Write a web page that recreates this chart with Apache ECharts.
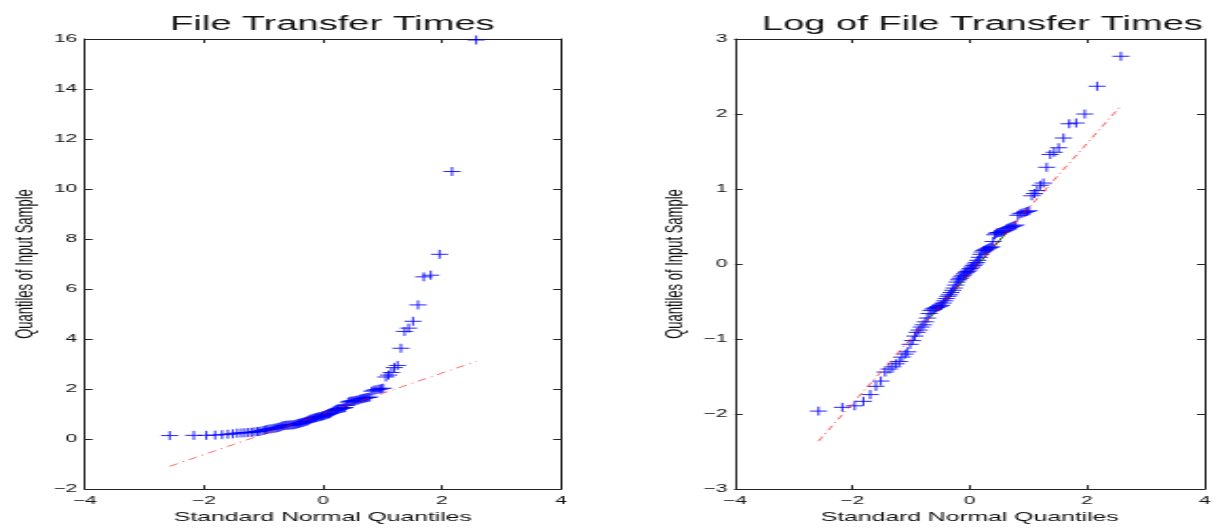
<!DOCTYPE html>
<html>
<head>
<meta charset="utf-8">
<script src="https://cdn.jsdelivr.net/npm/echarts@6/dist/echarts.min.js"></script>
<style>
html,body{margin:0;padding:0;background:#fff;overflow:hidden;width:1216px;height:529px;}
#c{width:640px;height:529px;transform:scaleX(1.9);transform-origin:0 0;}
</style>
</head>
<body>
<div id="c"></div>
<script>
// Standard normal quantiles (x positions of the QQ points)
const normalQuantiles = [-2.576,-2.170,-1.960,-1.812,-1.695,-1.598,-1.514,-1.440,-1.372,-1.311,-1.254,-1.200,-1.150,-1.103,-1.058,-1.015,-0.974,-0.935,-0.896,-0.860,-0.824,-0.789,-0.755,-0.722,-0.690,-0.659,-0.628,-0.598,-0.568,-0.539,-0.510,-0.482,-0.454,-0.426,-0.399,-0.372,-0.345,-0.319,-0.292,-0.266,-0.240,-0.215,-0.189,-0.164,-0.138,-0.113,-0.088,-0.063,-0.038,-0.013,0.013,0.038,0.063,0.088,0.113,0.138,0.164,0.189,0.215,0.240,0.266,0.292,0.319,0.345,0.372,0.399,0.426,0.454,0.482,0.510,0.539,0.568,0.598,0.628,0.659,0.690,0.722,0.755,0.789,0.824,0.860,0.896,0.935,0.974,1.015,1.058,1.103,1.150,1.200,1.254,1.311,1.372,1.440,1.514,1.598,1.695,1.812,1.960,2.170,2.576];
// Sorted file transfer times (left panel)
const fileTimes = [0.141,0.148,0.151,0.160,0.176,0.196,0.210,0.237,0.247,0.254,0.264,0.273,0.289,0.301,0.310,0.343,0.361,0.383,0.403,0.415,0.432,0.445,0.463,0.487,0.517,0.538,0.549,0.554,0.560,0.566,0.571,0.577,0.595,0.613,0.631,0.651,0.664,0.684,0.705,0.726,0.756,0.787,0.811,0.827,0.844,0.861,0.878,0.896,0.905,0.923,0.942,0.961,0.980,1.000,1.020,1.051,1.094,1.139,1.174,1.197,1.209,1.221,1.234,1.246,1.259,1.350,1.477,1.507,1.522,1.522,1.537,1.553,1.568,1.600,1.616,1.632,1.649,1.665,1.682,1.916,1.954,1.974,1.994,2.014,2.034,2.484,2.560,2.664,2.858,2.945,3.633,4.306,4.437,4.711,5.366,6.488,6.554,7.389,10.70,15.96];
// Sorted log of file transfer times (right panel)
const logFileTimes = [-1.96,-1.91,-1.89,-1.83,-1.74,-1.63,-1.56,-1.44,-1.40,-1.37,-1.33,-1.30,-1.24,-1.20,-1.17,-1.07,-1.02,-0.96,-0.91,-0.88,-0.84,-0.81,-0.77,-0.72,-0.66,-0.62,-0.60,-0.59,-0.58,-0.57,-0.56,-0.55,-0.52,-0.49,-0.46,-0.43,-0.41,-0.38,-0.35,-0.32,-0.28,-0.24,-0.21,-0.19,-0.17,-0.15,-0.13,-0.11,-0.10,-0.08,-0.06,-0.04,-0.02,0.00,0.02,0.05,0.09,0.13,0.16,0.18,0.19,0.20,0.21,0.22,0.23,0.30,0.39,0.41,0.42,0.42,0.43,0.44,0.45,0.47,0.48,0.49,0.50,0.51,0.52,0.65,0.67,0.68,0.69,0.70,0.71,0.91,0.94,0.98,1.05,1.08,1.29,1.46,1.49,1.55,1.68,1.87,1.88,2.00,2.37,2.77];
// Reference lines: dash-dot fit (extremes) and solid segment (quartiles)
const fitLineX = [-2.576, 2.576];
const fitLineLeftY = [-1.09, 3.11];
const fitLineRightY = [-2.36, 2.11];
const quartileX = [-0.674, 0.674];
const quartileLeftY = [0.46, 1.56];
const quartileRightY = [-0.71, 0.46];
// Axis ranges
const xRange = [-4, 4, 2];
const yRangeLeft = [-2, 16, 2];
const yRangeRight = [-3, 3, 1];
const titles = ['File Transfer Times', 'Log of File Transfer Times'];
const xName = 'Standard Normal Quantiles';
const yName = 'Quantiles of Input Sample';

const FONT = 'Liberation Sans, Arial, Helvetica, sans-serif';
const TXT = '#111';
const fmt = v => (v < 0 ? '\u2212' + Math.abs(v) : String(v));
const grids = [
  {left: 44.7, top: 39, width: 250.5, height: 453},
  {left: 386.8, top: 39, width: 250.5, height: 453}
];
const axisLine = {show: true, onZero: false, lineStyle: {color: '#222', width: 1}};
const tick = {show: true, inside: true, length: 4, lineStyle: {color: '#222', width: 1}};

function xAxes(gi) {
  return [
    {type: 'value', gridIndex: gi, position: 'bottom', min: xRange[0], max: xRange[1], interval: xRange[2],
     axisLine, axisTick: tick, splitLine: {show: false},
     axisLabel: {formatter: fmt, fontSize: 11, color: TXT, fontFamily: FONT, margin: 6},
     name: xName, nameLocation: 'middle', nameGap: 19,
     nameTextStyle: {fontSize: 13, color: TXT, fontFamily: FONT}},
    {type: 'value', gridIndex: gi, position: 'top', min: xRange[0], max: xRange[1], interval: xRange[2],
     axisLine, axisTick: tick, splitLine: {show: false}, axisLabel: {show: false}}
  ];
}
function yAxes(gi, r) {
  return [
    {type: 'value', gridIndex: gi, position: 'left', min: r[0], max: r[1], interval: r[2],
     axisLine, axisTick: tick, splitLine: {show: false},
     axisLabel: {formatter: fmt, fontSize: 11, color: TXT, fontFamily: FONT, margin: 4},
     name: yName, nameLocation: 'middle', nameGap: 25,
     nameTextStyle: {fontSize: 13, color: TXT, fontFamily: FONT}},
    {type: 'value', gridIndex: gi, position: 'right', min: r[0], max: r[1], interval: r[2],
     axisLine, axisTick: tick, splitLine: {show: false}, axisLabel: {show: false}}
  ];
}
const plus = 'path://M0,5L10,5M5,0L5,10';
function panelSeries(ai, ys, fitY, qY) {
  return [
    {type: 'scatter', xAxisIndex: ai, yAxisIndex: ai, symbol: plus, symbolSize: 9,
     data: normalQuantiles.map((q, i) => [q, ys[i]]),
     itemStyle: {color: 'rgba(0,0,0,0)', borderColor: '#0000ff', borderWidth: 1, opacity: 0.85},
     silent: true, z: 2},
    {type: 'line', xAxisIndex: ai, yAxisIndex: ai, showSymbol: false, symbol: 'none',
     data: quartileX.map((q, i) => [q, qY[i]]),
     lineStyle: {color: '#008000', width: 1}, silent: true, z: 1},
    {type: 'line', xAxisIndex: ai, yAxisIndex: ai, showSymbol: false, symbol: 'none',
     data: fitLineX.map((q, i) => [q, fitY[i]]),
     lineStyle: {color: 'rgba(255,0,0,0.6)', width: 1, type: [5, 3, 1, 3]}, silent: true, z: 3}
  ];
}

const chart = echarts.init(document.getElementById('c'), null, {renderer: 'canvas'});
chart.setOption({
  animation: false,
  backgroundColor: '#fff',
  title: titles.map((t, i) => ({
    text: t, left: grids[i].left + grids[i].width / 2, top: 9, textAlign: 'center',
    textStyle: {fontSize: 20, fontWeight: 'normal', color: '#111', fontFamily: FONT}
  })),
  grid: grids,
  xAxis: [...xAxes(0), ...xAxes(1)],
  yAxis: [...yAxes(0, yRangeLeft), ...yAxes(1, yRangeRight)],
  series: [
    ...panelSeries(0, fileTimes, fitLineLeftY, quartileLeftY),
    ...panelSeries(2, logFileTimes, fitLineRightY, quartileRightY)
  ]
});
</script>
</body>
</html>
